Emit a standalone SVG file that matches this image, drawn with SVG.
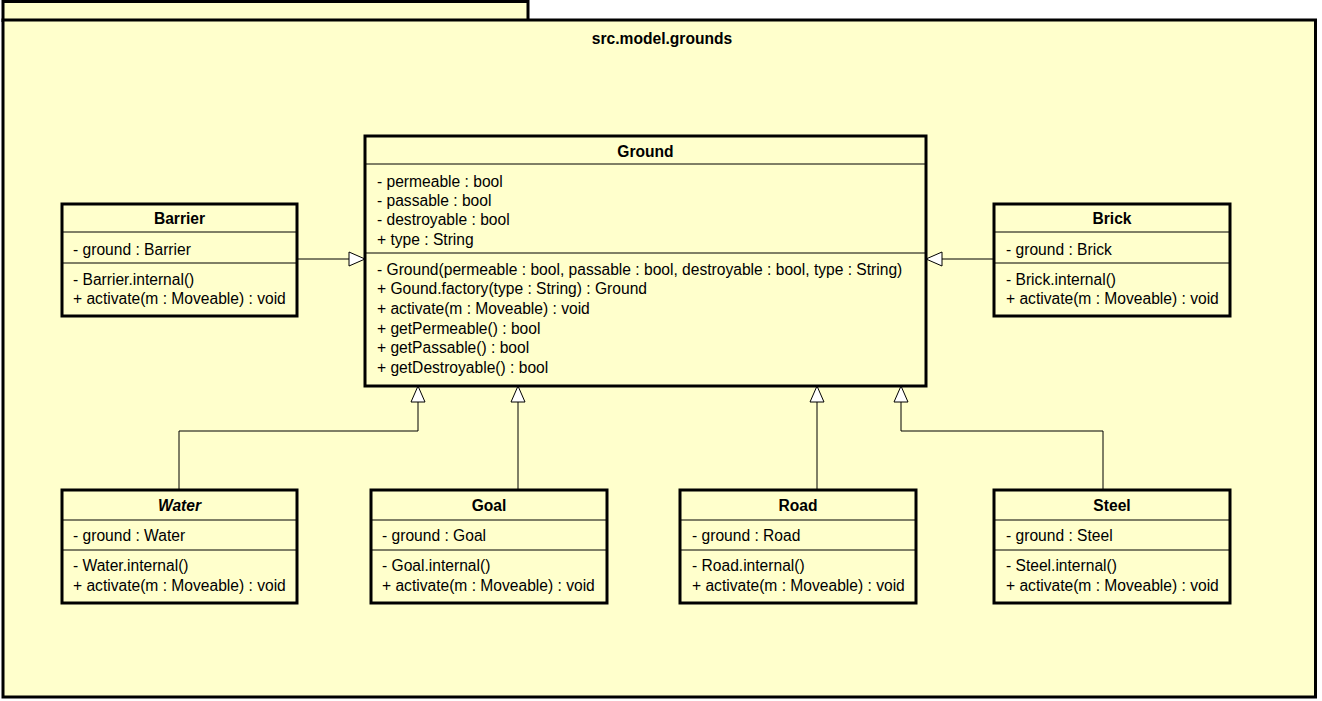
<svg xmlns="http://www.w3.org/2000/svg" width="1322" height="701" viewBox="0 0 1322 701">
<style>
.pk{fill:#ffffcc;stroke:#000;stroke-width:3}
.box{fill:#ffffcc;stroke:#000;stroke-width:3}
.sep{stroke:#000;stroke-width:1}
text{font-family:"Liberation Sans",Arial,sans-serif;font-size:15.6px;fill:#000}
.t{font-weight:bold;text-anchor:middle}
.i{font-style:italic}
.ln{fill:none;stroke:#000;stroke-width:1}
.ar{fill:#fff;stroke:#000;stroke-width:1}
</style>
<g id="package">
<rect class="pk" x="3" y="1.5" width="525" height="19"/>
<rect class="pk" x="3" y="20" width="1312.5" height="677"/>
<text class="t" x="662" y="44">src.model.grounds</text>
</g>
<g id="connectors">
<path class="ln" d="M297 259H349"/>
<polygon class="ar" points="349,252 365,259 349,266"/>
<path class="ln" d="M994 259H942"/>
<polygon class="ar" points="942,252 926,259 942,266"/>
<path class="ln" d="M179 490V431H418V402"/>
<polygon class="ar" points="411,402 418,386 425,402"/>
<path class="ln" d="M518 490V402"/>
<polygon class="ar" points="511,402 518,386 525,402"/>
<path class="ln" d="M817 490V402"/>
<polygon class="ar" points="810,402 817,386 824,402"/>
<path class="ln" d="M1103 490V431H901V402"/>
<polygon class="ar" points="894,402 901,386 908,402"/>
</g>
<g id="Ground">
<rect class="box" x="365" y="136" width="561" height="250"/>
<text class="t" x="645.5" y="157">Ground</text>
<line class="sep" x1="365" y1="164" x2="926" y2="164"/>
<text x="377" y="187">- permeable : bool</text>
<text x="377" y="206">- passable : bool</text>
<text x="377" y="225">- destroyable : bool</text>
<text x="377" y="245">+ type : String</text>
<line class="sep" x1="365" y1="253" x2="926" y2="253"/>
<text x="377" y="275">- Ground(permeable : bool, passable : bool, destroyable : bool, type : String)</text>
<text x="377" y="294">+ Gound.factory(type : String) : Ground</text>
<text x="377" y="314">+ activate(m : Moveable) : void</text>
<text x="377" y="334">+ getPermeable() : bool</text>
<text x="377" y="353">+ getPassable() : bool</text>
<text x="377" y="373">+ getDestroyable() : bool</text>
</g>
<g id="Barrier">
<rect class="box" x="62" y="204" width="235" height="112"/>
<text class="t" x="179.5" y="224">Barrier</text>
<line class="sep" x1="62" y1="232" x2="297" y2="232"/>
<text x="73" y="255">- ground : Barrier</text>
<line class="sep" x1="62" y1="263" x2="297" y2="263"/>
<text x="73" y="285">- Barrier.internal()</text>
<text x="73" y="304">+ activate(m : Moveable) : void</text>
</g>
<g id="Brick">
<rect class="box" x="994" y="204" width="236" height="112"/>
<text class="t" x="1112" y="224">Brick</text>
<line class="sep" x1="994" y1="232" x2="1230" y2="232"/>
<text x="1006" y="255">- ground : Brick</text>
<line class="sep" x1="994" y1="263" x2="1230" y2="263"/>
<text x="1006" y="285">- Brick.internal()</text>
<text x="1006" y="304">+ activate(m : Moveable) : void</text>
</g>
<g id="Water">
<rect class="box" x="62" y="490" width="235" height="113"/>
<text class="t i" x="179.5" y="511">Water</text>
<line class="sep" x1="62" y1="520" x2="297" y2="520"/>
<text x="73" y="541">- ground : Water</text>
<line class="sep" x1="62" y1="550" x2="297" y2="550"/>
<text x="73" y="571">- Water.internal()</text>
<text x="73" y="591">+ activate(m : Moveable) : void</text>
</g>
<g id="Goal">
<rect class="box" x="371" y="490" width="236" height="113"/>
<text class="t" x="489" y="511">Goal</text>
<line class="sep" x1="371" y1="520" x2="607" y2="520"/>
<text x="382" y="541">- ground : Goal</text>
<line class="sep" x1="371" y1="550" x2="607" y2="550"/>
<text x="382" y="571">- Goal.internal()</text>
<text x="382" y="591">+ activate(m : Moveable) : void</text>
</g>
<g id="Road">
<rect class="box" x="680" y="490" width="236" height="113"/>
<text class="t" x="798" y="511">Road</text>
<line class="sep" x1="680" y1="520" x2="916" y2="520"/>
<text x="692" y="541">- ground : Road</text>
<line class="sep" x1="680" y1="550" x2="916" y2="550"/>
<text x="692" y="571">- Road.internal()</text>
<text x="692" y="591">+ activate(m : Moveable) : void</text>
</g>
<g id="Steel">
<rect class="box" x="994" y="490" width="236" height="113"/>
<text class="t" x="1112" y="511">Steel</text>
<line class="sep" x1="994" y1="520" x2="1230" y2="520"/>
<text x="1006" y="541">- ground : Steel</text>
<line class="sep" x1="994" y1="550" x2="1230" y2="550"/>
<text x="1006" y="571">- Steel.internal()</text>
<text x="1006" y="591">+ activate(m : Moveable) : void</text>
</g>
</svg>
